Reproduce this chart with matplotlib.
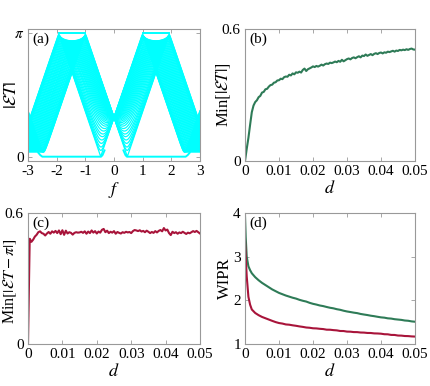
import numpy as np
import matplotlib
matplotlib.use("Agg")
import matplotlib.pyplot as plt

plt.rcParams["font.family"] = ["Liberation Serif", "DejaVu Serif"]
plt.rcParams["mathtext.fontset"] = "stix"
plt.rcParams["axes.unicode_minus"] = False

# ---------------- panel (a): quasienergy bands vs f ----------------
# each band line: position of its lower vertex, gap at that vertex, gap at its top
vertex_f = [0.0, 0.03, 0.06, 0.09, 0.12, 0.15, 0.18, 0.21, 0.24, 0.27,
            0.30, 0.33, 0.36, 0.385, 0.405, 0.425, 0.44, 0.452, 0.46, 0.465]
bottom_gap = [1.0, 0.998, 0.992, 0.982, 0.969, 0.951, 0.929, 0.901, 0.867,
              0.825, 0.778, 0.717, 0.652, 0.577, 0.509, 0.425, 0.339,
              0.246, 0.160, 0.0]
top_gap = [0.19, 0.1896, 0.1885, 0.1866, 0.1837, 0.1801, 0.1755, 0.1699,
           0.1634, 0.1555, 0.1463, 0.1353, 0.1221, 0.1086, 0.0963, 0.0813,
           0.0668, 0.052, 0.0395, 0.0277]
outer_gap = 0.12          # gap at the outer bottoms (|f| ~ 2.5-3.4)
drive_slope = 2.15        # d|ET|/df along the straight parts

# edge modes (right half, mirrored to the left)
zero_mode_f = [0.33, 0.40, 0.45, 2.50, 2.57, 2.64]
zero_mode_y = [0.16, 0.04, 0.0, 0.0, 0.04, 0.10]
pi_mode_f = [1.0, 1.92]

# ---------------- panels (b), (c): minimum gaps vs d ----------------
d_min = np.arange(101) * 0.0005
min_abs_ET = [
    0.000, 0.055, 0.105, 0.165, 0.222, 0.252, 0.268, 0.276, 0.290, 0.296,
    0.311, 0.314, 0.326, 0.328, 0.338, 0.345, 0.347, 0.356, 0.358, 0.366,
    0.367, 0.374, 0.372, 0.381, 0.384, 0.383, 0.392, 0.389, 0.398, 0.394,
    0.403, 0.401, 0.406, 0.402, 0.414, 0.420, 0.409, 0.417, 0.421, 0.425,
    0.430, 0.427, 0.432, 0.429, 0.433, 0.438, 0.434, 0.440, 0.443, 0.441,
    0.447, 0.445, 0.448, 0.452, 0.449, 0.455, 0.451, 0.460, 0.453, 0.458,
    0.463, 0.466, 0.462, 0.468, 0.471, 0.467, 0.472, 0.476, 0.471, 0.479,
    0.477, 0.484, 0.478, 0.482, 0.486, 0.481, 0.487, 0.490, 0.486, 0.491,
    0.493, 0.489, 0.494, 0.492, 0.497, 0.495, 0.498, 0.501, 0.497, 0.502,
    0.500, 0.505, 0.503, 0.506, 0.504, 0.508, 0.505, 0.509, 0.511, 0.507,
    0.506]
min_abs_ET_pi = [
    0.000, 0.482, 0.468, 0.478, 0.492, 0.500, 0.512, 0.516, 0.508, 0.505,
    0.497, 0.506, 0.513, 0.505, 0.516, 0.510, 0.518, 0.508, 0.520, 0.503,
    0.521, 0.500, 0.519, 0.506, 0.512, 0.509, 0.501, 0.509, 0.512, 0.510,
    0.511, 0.514, 0.509, 0.516, 0.505, 0.515, 0.508, 0.520, 0.510, 0.517,
    0.506, 0.515, 0.510, 0.523, 0.527, 0.512, 0.519, 0.508, 0.514, 0.510,
    0.517, 0.505, 0.513, 0.509, 0.506, 0.512, 0.509, 0.514, 0.511, 0.513,
    0.508, 0.517, 0.522, 0.520, 0.517, 0.521, 0.515, 0.518, 0.512, 0.519,
    0.514, 0.508, 0.513, 0.509, 0.517, 0.511, 0.518, 0.522, 0.516, 0.531,
    0.520, 0.524, 0.508, 0.499, 0.514, 0.508, 0.512, 0.505, 0.511, 0.508,
    0.514, 0.509, 0.504, 0.510, 0.507, 0.512, 0.517, 0.513, 0.518, 0.512,
    0.506]

# ---------------- panel (d): WIPR vs d ----------------
d_wipr = [0.0, 0.0002, 0.0005, 0.001, 0.0015, 0.002, 0.003, 0.004, 0.005,
          0.006, 0.007, 0.008, 0.009, 0.010, 0.011, 0.012, 0.013, 0.014,
          0.015, 0.016, 0.017, 0.018, 0.019, 0.020, 0.021, 0.022, 0.023,
          0.024, 0.025, 0.026, 0.027, 0.028, 0.029, 0.030, 0.031, 0.032,
          0.033, 0.034, 0.035, 0.036, 0.037, 0.038, 0.039, 0.040, 0.041,
          0.042, 0.043, 0.044, 0.045, 0.046, 0.047, 0.048, 0.049, 0.050]
wipr_green = [3.93, 3.45, 3.00, 2.78, 2.69, 2.62, 2.53, 2.46, 2.40,
              2.35, 2.30, 2.25, 2.21, 2.17, 2.14, 2.11, 2.085, 2.06,
              2.04, 2.012, 1.99, 1.972, 1.943, 1.92, 1.903, 1.882, 1.868,
              1.848, 1.83, 1.817, 1.797, 1.783, 1.762, 1.745, 1.732, 1.718,
              1.707, 1.688, 1.675, 1.663, 1.648, 1.637, 1.623, 1.61, 1.603,
              1.588, 1.582, 1.568, 1.56, 1.552, 1.538, 1.532, 1.518, 1.51]
wipr_red = [3.39, 3.00, 2.55, 2.08, 1.90, 1.79, 1.71, 1.66, 1.62,
            1.59, 1.56, 1.53, 1.502, 1.48, 1.468, 1.448, 1.442, 1.428,
            1.417, 1.403, 1.392, 1.378, 1.372, 1.36, 1.357, 1.348, 1.342,
            1.328, 1.327, 1.318, 1.312, 1.298, 1.297, 1.284, 1.282, 1.273,
            1.272, 1.263, 1.261, 1.253, 1.252, 1.243, 1.241, 1.236, 1.224,
            1.222, 1.208, 1.207, 1.194, 1.192, 1.183, 1.181, 1.174, 1.17]

CYAN = "#00ffff"
GREEN = "#2e7b57"
RED = "#a8143a"
SPINE = "0.6"


def style(ax):
    for s in ax.spines.values():
        s.set_color(SPINE)
        s.set_linewidth(0.8)
    ax.tick_params(direction="in", top=True, right=True, length=3,
                   width=0.6, color=SPINE, labelsize=11, pad=3)


def band_line(f, fv, gb, gt):
    phase = drive_slope * (f - fv)
    b = np.abs(np.mod(phase + np.pi, 2 * np.pi) - np.pi)
    nb = np.round(phase / (2 * np.pi))
    gbot = np.where(nb == 0, gb, outer_gap)
    alpha = (np.cos(gbot) + np.cos(gt)) / 2
    beta = (np.cos(gbot) - np.cos(gt)) / 2
    return np.arccos(np.clip(alpha * np.cos(b) + beta, -1, 1))


fig = plt.figure(figsize=(4.3, 3.86), dpi=100)
ax_a = fig.add_axes([0.0651, 0.5829, 0.4, 0.342])
ax_b = fig.add_axes([0.5698, 0.5829, 0.3953, 0.342])
ax_c = fig.add_axes([0.0651, 0.1088, 0.4, 0.3394])
ax_d = fig.add_axes([0.5698, 0.1088, 0.3953, 0.3394])

# -- (a) ------------------------------------------------------------
f = np.linspace(-3, 3, 1501)
for fv, gb, gt in zip(vertex_f, bottom_gap, top_gap):
    for sgn in ([1] if fv == 0 else [1, -1]):
        ax_a.plot(f, band_line(f, sgn * fv, gb, gt), color=CYAN, lw=0.9)
for sgn in (1, -1):
    ax_a.plot(sgn * np.array(zero_mode_f), zero_mode_y, color=CYAN, lw=1.4)
    ax_a.plot(sgn * np.array(pi_mode_f), [np.pi, np.pi], color=CYAN, lw=1.4)
ax_a.set_xlim(-3, 3)
ax_a.set_ylim(-0.11, np.pi + 0.11)
ax_a.set_xticks([-3, -2, -1, 0, 1, 2, 3])
ax_a.set_yticks([0, np.pi])
ax_a.set_yticklabels(["0", r"$\pi$"])
ax_a.set_xlabel(r"$f$", fontsize=13, labelpad=1)
ax_a.set_ylabel(r"$|\mathcal{E}T|$", fontsize=13)
ax_a.yaxis.set_label_coords(-0.045, 0.5)
style(ax_a)

# -- (b) ------------------------------------------------------------
ax_b.plot(d_min, min_abs_ET, color=GREEN, lw=1.5)
ax_b.set_ylim(0, 0.6)
ax_b.set_yticks([0, 0.6])
ax_b.set_yticklabels(["0", "0.6"])
ax_b.set_ylabel(r"Min$[|\mathcal{E}T|]$", fontsize=12)
ax_b.yaxis.set_label_coords(-0.068, 0.5)

# -- (c) ------------------------------------------------------------
ax_c.plot(d_min, min_abs_ET_pi, color=RED, lw=1.5)
ax_c.set_ylim(0, 0.6)
ax_c.set_yticks([0, 0.6])
ax_c.set_yticklabels(["0", "0.6"])
ax_c.set_ylabel(r"Min$[|\mathcal{E}T-\pi|]$", fontsize=11.5)
ax_c.yaxis.set_label_coords(-0.055, 0.48)

# -- (d) ------------------------------------------------------------
ax_d.plot(d_wipr, wipr_green, color=GREEN, lw=1.5)
ax_d.plot(d_wipr, wipr_red, color=RED, lw=1.5)
ax_d.set_ylim(1, 4)
ax_d.set_yticks([1, 2, 3, 4])
ax_d.set_ylabel("WIPR", fontsize=12)
ax_d.yaxis.set_label_coords(-0.072, 0.5)

for ax in (ax_b, ax_c, ax_d):
    ax.set_xlim(0, 0.05)
    ax.set_xticks([0, 0.01, 0.02, 0.03, 0.04, 0.05])
    ax.set_xticklabels(["0", "0.01", "0.02", "0.03", "0.04", "0.05"])
    ax.set_xlabel(r"$d$", fontsize=13, labelpad=1)
    style(ax)

for ax, lab in zip((ax_a, ax_b, ax_c, ax_d), ("(a)", "(b)", "(c)", "(d)")):
    ax.text(0.025, 0.97, lab, transform=ax.transAxes, ha="left", va="top",
            fontsize=11)

fig.savefig("out.png", dpi=100)
